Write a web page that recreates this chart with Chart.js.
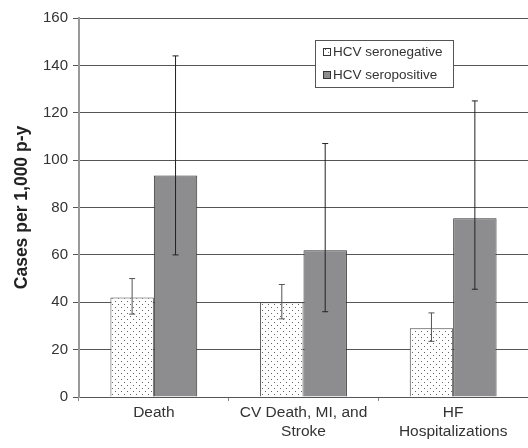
<!DOCTYPE html>
<html>
<head>
<meta charset="utf-8">
<script src="https://cdn.jsdelivr.net/npm/chart.js@4/dist/chart.umd.min.js"></script>
<style>
  html, body { margin: 0; padding: 0; background: #fff; }
  #wrap { width: 528px; height: 448px; position: relative; }
</style>
</head>
<body>
<div id="wrap"><canvas id="chart"></canvas></div>
<script>
// data
const categories = ['Death', ['CV Death, MI, and', 'Stroke'], ['HF', 'Hospitalizations']];
const seriesNames = ['HCV seronegative', 'HCV seropositive'];
const seronegative = [42, 40, 29];
const seronegLow = [35, 33, 23.5];
const seronegHigh = [50, 47.5, 35.5];
const seropositive = [93.5, 62, 75.5];
const seroposLow = [60, 36, 45.5];
const seroposHigh = [144, 107, 125];
const yMin = 0, yMax = 160, yStep = 20;

const FONT = '"Liberation Sans", Arial, sans-serif';

// dotted fill for the seronegative bars
function dotPattern() {
  const c = document.createElement('canvas');
  c.width = 6; c.height = 6;
  const g = c.getContext('2d');
  g.fillStyle = '#fff';
  g.fillRect(0, 0, 6, 6);
  g.fillStyle = '#666';
  g.fillRect(1, 1, 1, 1);
  g.fillRect(4, 4, 1, 1);
  return g.createPattern(c, 'repeat');
}
const dots = dotPattern();

const lows = [seronegLow, seroposLow];
const highs = [seronegHigh, seroposHigh];
const errColors = ['#555', '#222'];

const errorBars = {
  id: 'errorBars',
  afterDatasetsDraw(chart) {
    const ctx = chart.ctx;
    const y = chart.scales.y;
    chart.data.datasets.forEach((ds, i) => {
      const meta = chart.getDatasetMeta(i);
      meta.data.forEach((el, j) => {
        const top = y.getPixelForValue(highs[i][j]);
        const bot = y.getPixelForValue(lows[i][j]);
        ctx.save();
        ctx.strokeStyle = errColors[i];
        ctx.lineWidth = 1;
        ctx.beginPath();
        ctx.moveTo(el.x, top); ctx.lineTo(el.x, bot);
        ctx.moveTo(el.x - 3, top); ctx.lineTo(el.x + 3, top);
        ctx.moveTo(el.x - 3, bot); ctx.lineTo(el.x + 3, bot);
        ctx.stroke();
        ctx.restore();
      });
    });
  }
};

// legend box sits inside the plot
const boxLegend = {
  id: 'boxLegend',
  afterDraw(chart) {
    const ctx = chart.ctx;
    const x = 315, yTop = 40, w = 138, h = 47;
    ctx.save();
    ctx.fillStyle = '#fff';
    ctx.fillRect(x, yTop, w, h);
    ctx.strokeStyle = '#555';
    ctx.lineWidth = 1;
    ctx.strokeRect(x + 0.5, yTop + 0.5, w, h);
    ctx.font = '13.5px ' + FONT;
    ctx.textBaseline = 'middle';
    chart.data.datasets.forEach((ds, i) => {
      const cy = yTop + 12 + i * 23;
      ctx.fillStyle = i === 0 ? dots : ds.backgroundColor;
      ctx.fillRect(x + 8, cy - 4, 8, 8);
      ctx.strokeStyle = '#333';
      ctx.strokeRect(x + 8.5, cy - 3.5, 7, 7);
      ctx.fillStyle = '#333';
      ctx.fillText(ds.label, x + 18, cy);
    });
    ctx.restore();
  }
};

new Chart(document.getElementById('chart'), {
  type: 'bar',
  data: {
    labels: categories,
    datasets: [
      {
        label: seriesNames[0],
        data: seronegative,
        backgroundColor: dots,
        borderColor: '#444',
        borderWidth: 1
      },
      {
        label: seriesNames[1],
        data: seropositive,
        backgroundColor: '#8d8d90',
        borderColor: '#333',
        borderWidth: 1
      }
    ]
  },
  options: {
    responsive: true,
    maintainAspectRatio: false,
    animation: false,
    layout: { padding: { top: 18, right: 0, left: 12, bottom: 0 } },
    plugins: {
      legend: { display: false },
      tooltip: { enabled: false }
    },
    datasets: {
      bar: { categoryPercentage: 0.58, barPercentage: 1.0 }
    },
    scales: {
      x: {
        grid: {
          display: true,
          drawOnChartArea: false,
          drawTicks: true,
          tickLength: 4,
          color: '#888'
        },
        border: { color: '#555', width: 1 },
        ticks: {
          color: '#333',
          font: { family: FONT, size: 15.5, lineHeight: 1.25 },
          padding: 2,
          maxRotation: 0,
          autoSkip: false
        },
        afterFit(s) { s.height = 51; }
      },
      y: {
        min: yMin,
        max: yMax,
        ticks: {
          stepSize: yStep,
          color: '#333',
          font: { family: FONT, size: 15 },
          padding: 5
        },
        grid: {
          color: '#555',
          lineWidth: 1,
          tickLength: 6
        },
        border: { color: '#999', width: 2 },
        title: {
          display: true,
          text: 'Cases per 1,000 p-y',
          color: '#222',
          font: { family: FONT, size: 17.5, weight: 'bold' },
          padding: { top: 0, bottom: 4 }
        },
        afterFit(s) { s.width = 67; }
      }
    }
  },
  plugins: [errorBars, boxLegend]
});
</script>
</body>
</html>
